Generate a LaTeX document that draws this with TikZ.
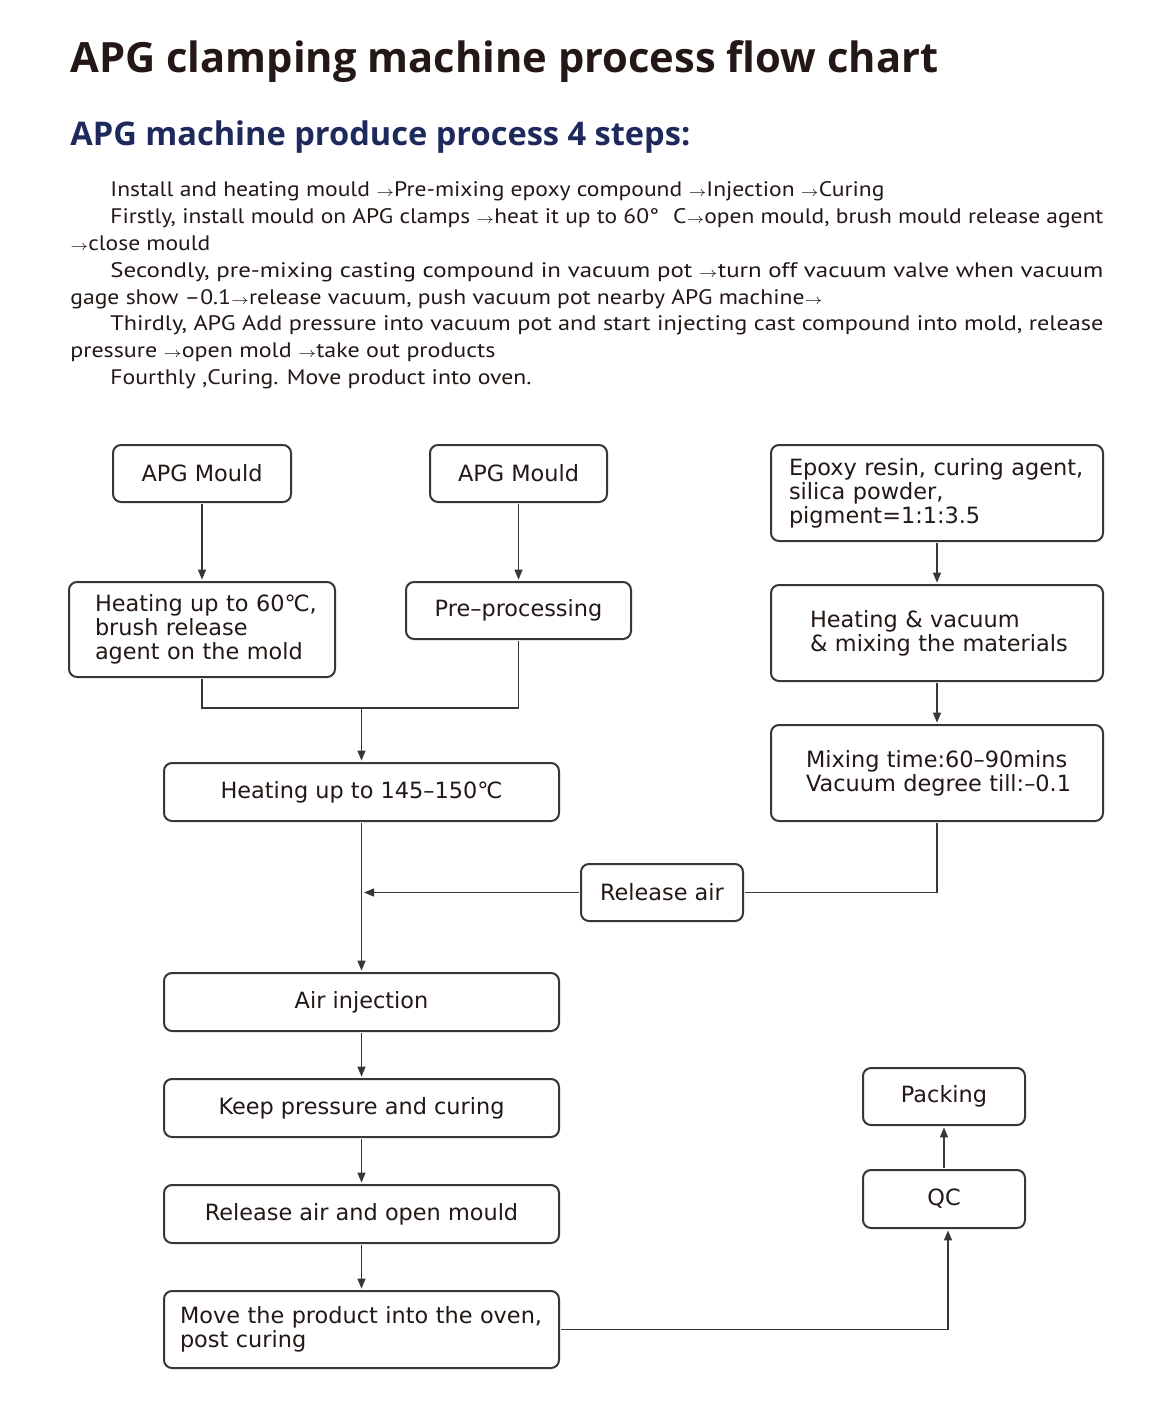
\documentclass[tikz,border=0pt]{standalone}
\usepackage{fontspec}
\usepackage{graphicx}
\usetikzlibrary{arrows.meta}
\newfontfamily\boxfont{DejaVu Sans}
\newfontfamily\bodyfont{PT Sans}
\newfontfamily\headfont{Open Sans}
\definecolor{ink}{RGB}{35,24,21}
\definecolor{navy}{RGB}{30,42,92}
\definecolor{edge}{RGB}{55,55,55}
\newcommand\oneline[1]{\mbox{#1}}
\newcommand\ar{{\scriptsize$\rightarrow$}}
\newcommand\fitline[2]{\resizebox{#1}{\height}{#2}}
\begin{document}
\begin{tikzpicture}[x=0.5pt,y=-0.5pt,
  box/.style={draw=edge, line width=1pt, rounded corners=4pt, text=ink,
    font=\boxfont\fontsize{11.2}{12}\selectfont, inner sep=0pt, outer sep=1.2pt, align=center},
  lbox/.style={box, align=left},
  conn/.style={draw=edge, line width=0.7pt},
  arr/.style={conn, -{Triangle[length=5pt,width=4pt]}},
  bline/.style={anchor=base west, inner sep=0pt, text=ink, font=\bodyfont\fontsize{10.5}{12}\selectfont}]
\useasboundingbox[fill=white] (0,0) rectangle (1170,1414);

% headings
\node[anchor=base west, inner sep=0pt, text=ink, font=\headfont\bfseries\fontsize{20}{24}\selectfont] (title) at (70,72)
  {\resizebox{434pt}{!}{APG clamping machine process flow chart}};
\node[anchor=base west, inner sep=0pt, text=navy, font=\headfont\bfseries\fontsize{16}{20}\selectfont] (subtitle) at (70,145)
  {\resizebox{310pt}{!}{APG machine produce process 4 steps:}};

% body text
\node[bline] (l1) at (110,196) {\fitline{387pt}{Install and heating mould \ar Pre-mixing epoxy compound \ar Injection \ar Curing}};
\node[bline] (l2) at (110,223) {\fitline{496.5pt}{Firstly, install mould on APG clamps \ar heat it up to 60°\hspace{0.6em}C\ar open mould, brush mould release agent}};
\node[bline] (l3) at (70,250) {\fitline{70pt}{\ar close mould}};
\node[bline] (l4) at (110,277) {\fitline{496.5pt}{Secondly, pre-mixing casting compound in vacuum pot \ar turn off vacuum valve when vacuum}};
\node[bline] (l5) at (70,304) {\fitline{376pt}{gage show –0.1\ar release vacuum, push vacuum pot nearby APG machine\ar}};
\node[bline] (l6) at (110,330) {\fitline{496.5pt}{Thirdly, APG Add pressure into vacuum pot and start injecting cast compound into mold, release}};
\node[bline] (l7) at (70,357) {\fitline{212.5pt}{pressure \ar open mold \ar take out products}};
\node[bline] (l8) at (110,384) {\fitline{210.5pt}{Fourthly ,Curing. Move product into oven.}};

% boxes
\node[box, minimum width=89pt, minimum height=28.5pt] (A1) at (202,473.5) {APG Mould};
\node[box, minimum width=88.5pt, minimum height=28.5pt] (A2) at (518.5,473.5) {APG Mould};
\node[lbox, minimum width=166pt, minimum height=48pt, text width=148pt, inner xsep=9pt] (E) at (937,493)
  {\oneline{Epoxy resin, curing agent,}\\silica powder,\\pigment=1:1:3.5};
\node[lbox, minimum width=133pt, minimum height=47.5pt, text width=107pt, inner xsep=13pt] (H1) at (202,629.5)
  {\oneline{Heating up to 60℃,}\\brush release\\\oneline{agent on the mold}};
\node[box, minimum width=112.5pt, minimum height=28.5pt] (P) at (518.5,610.5) {Pre–processing};
\node[lbox, minimum width=166pt, minimum height=48pt, text width=127pt, inner xsep=19.5pt] (HV) at (937,633)
  {Heating \& vacuum\\\oneline{\& mixing the materials}};
\node[lbox, minimum width=166pt, minimum height=48pt, text width=131pt, inner xsep=17.5pt] (MT) at (937,773)
  {\oneline{Mixing time:60–90mins}\\\oneline{Vacuum degree till:–0.1}};
\node[box, minimum width=197.5pt, minimum height=29pt] (H2) at (361.5,792) {Heating up to 145–150℃};
\node[box, minimum width=81pt, minimum height=28.5pt] (R) at (662,892.5) {Release air};
\node[box, minimum width=197.5pt, minimum height=29pt] (AI) at (361.5,1002) {Air injection};
\node[box, minimum width=197.5pt, minimum height=29pt] (K) at (361.5,1108) {Keep pressure and curing};
\node[box, minimum width=197.5pt, minimum height=29pt] (RA) at (361.5,1214) {Release air and open mould};
\node[lbox, minimum width=197.5pt, minimum height=38.5pt, text width=181.5pt, inner xsep=8pt] (M) at (361.5,1329.5)
  {\oneline{Move the product into the oven,}\\post curing};
\node[box, minimum width=81pt, minimum height=28.5pt] (PK) at (944,1096.5) {Packing};
\node[box, minimum width=81pt, minimum height=29pt] (QC) at (944,1199) {QC};

% helper coordinates
\coordinate (j) at (361.5,708);
\coordinate (m) at (364,892.5);
\coordinate (q) at ([xshift=2pt]QC.south);

% connectors
\draw[arr] (A1.south) -- (H1.north);
\draw[arr] (A2.south) -- (P.north);
\draw[arr] (E.south) -- (HV.north);
\draw[arr] (HV.south) -- (MT.north);
\draw[conn] (H1.south) |- (j) -| (P.south);
\draw[arr] (j) -- (H2.north);
\draw[arr] (H2.south) -- (AI.north);
\draw[conn] (MT.south) |- (R.east);
\draw[arr] (R.west) -- (m);
\draw[arr] (AI.south) -- (K.north);
\draw[arr] (K.south) -- (RA.north);
\draw[arr] (RA.south) -- (M.north);
\draw[arr] (M.east) -| (q);
\draw[arr] (QC.north) -- (PK.south);
\end{tikzpicture}
\end{document}
